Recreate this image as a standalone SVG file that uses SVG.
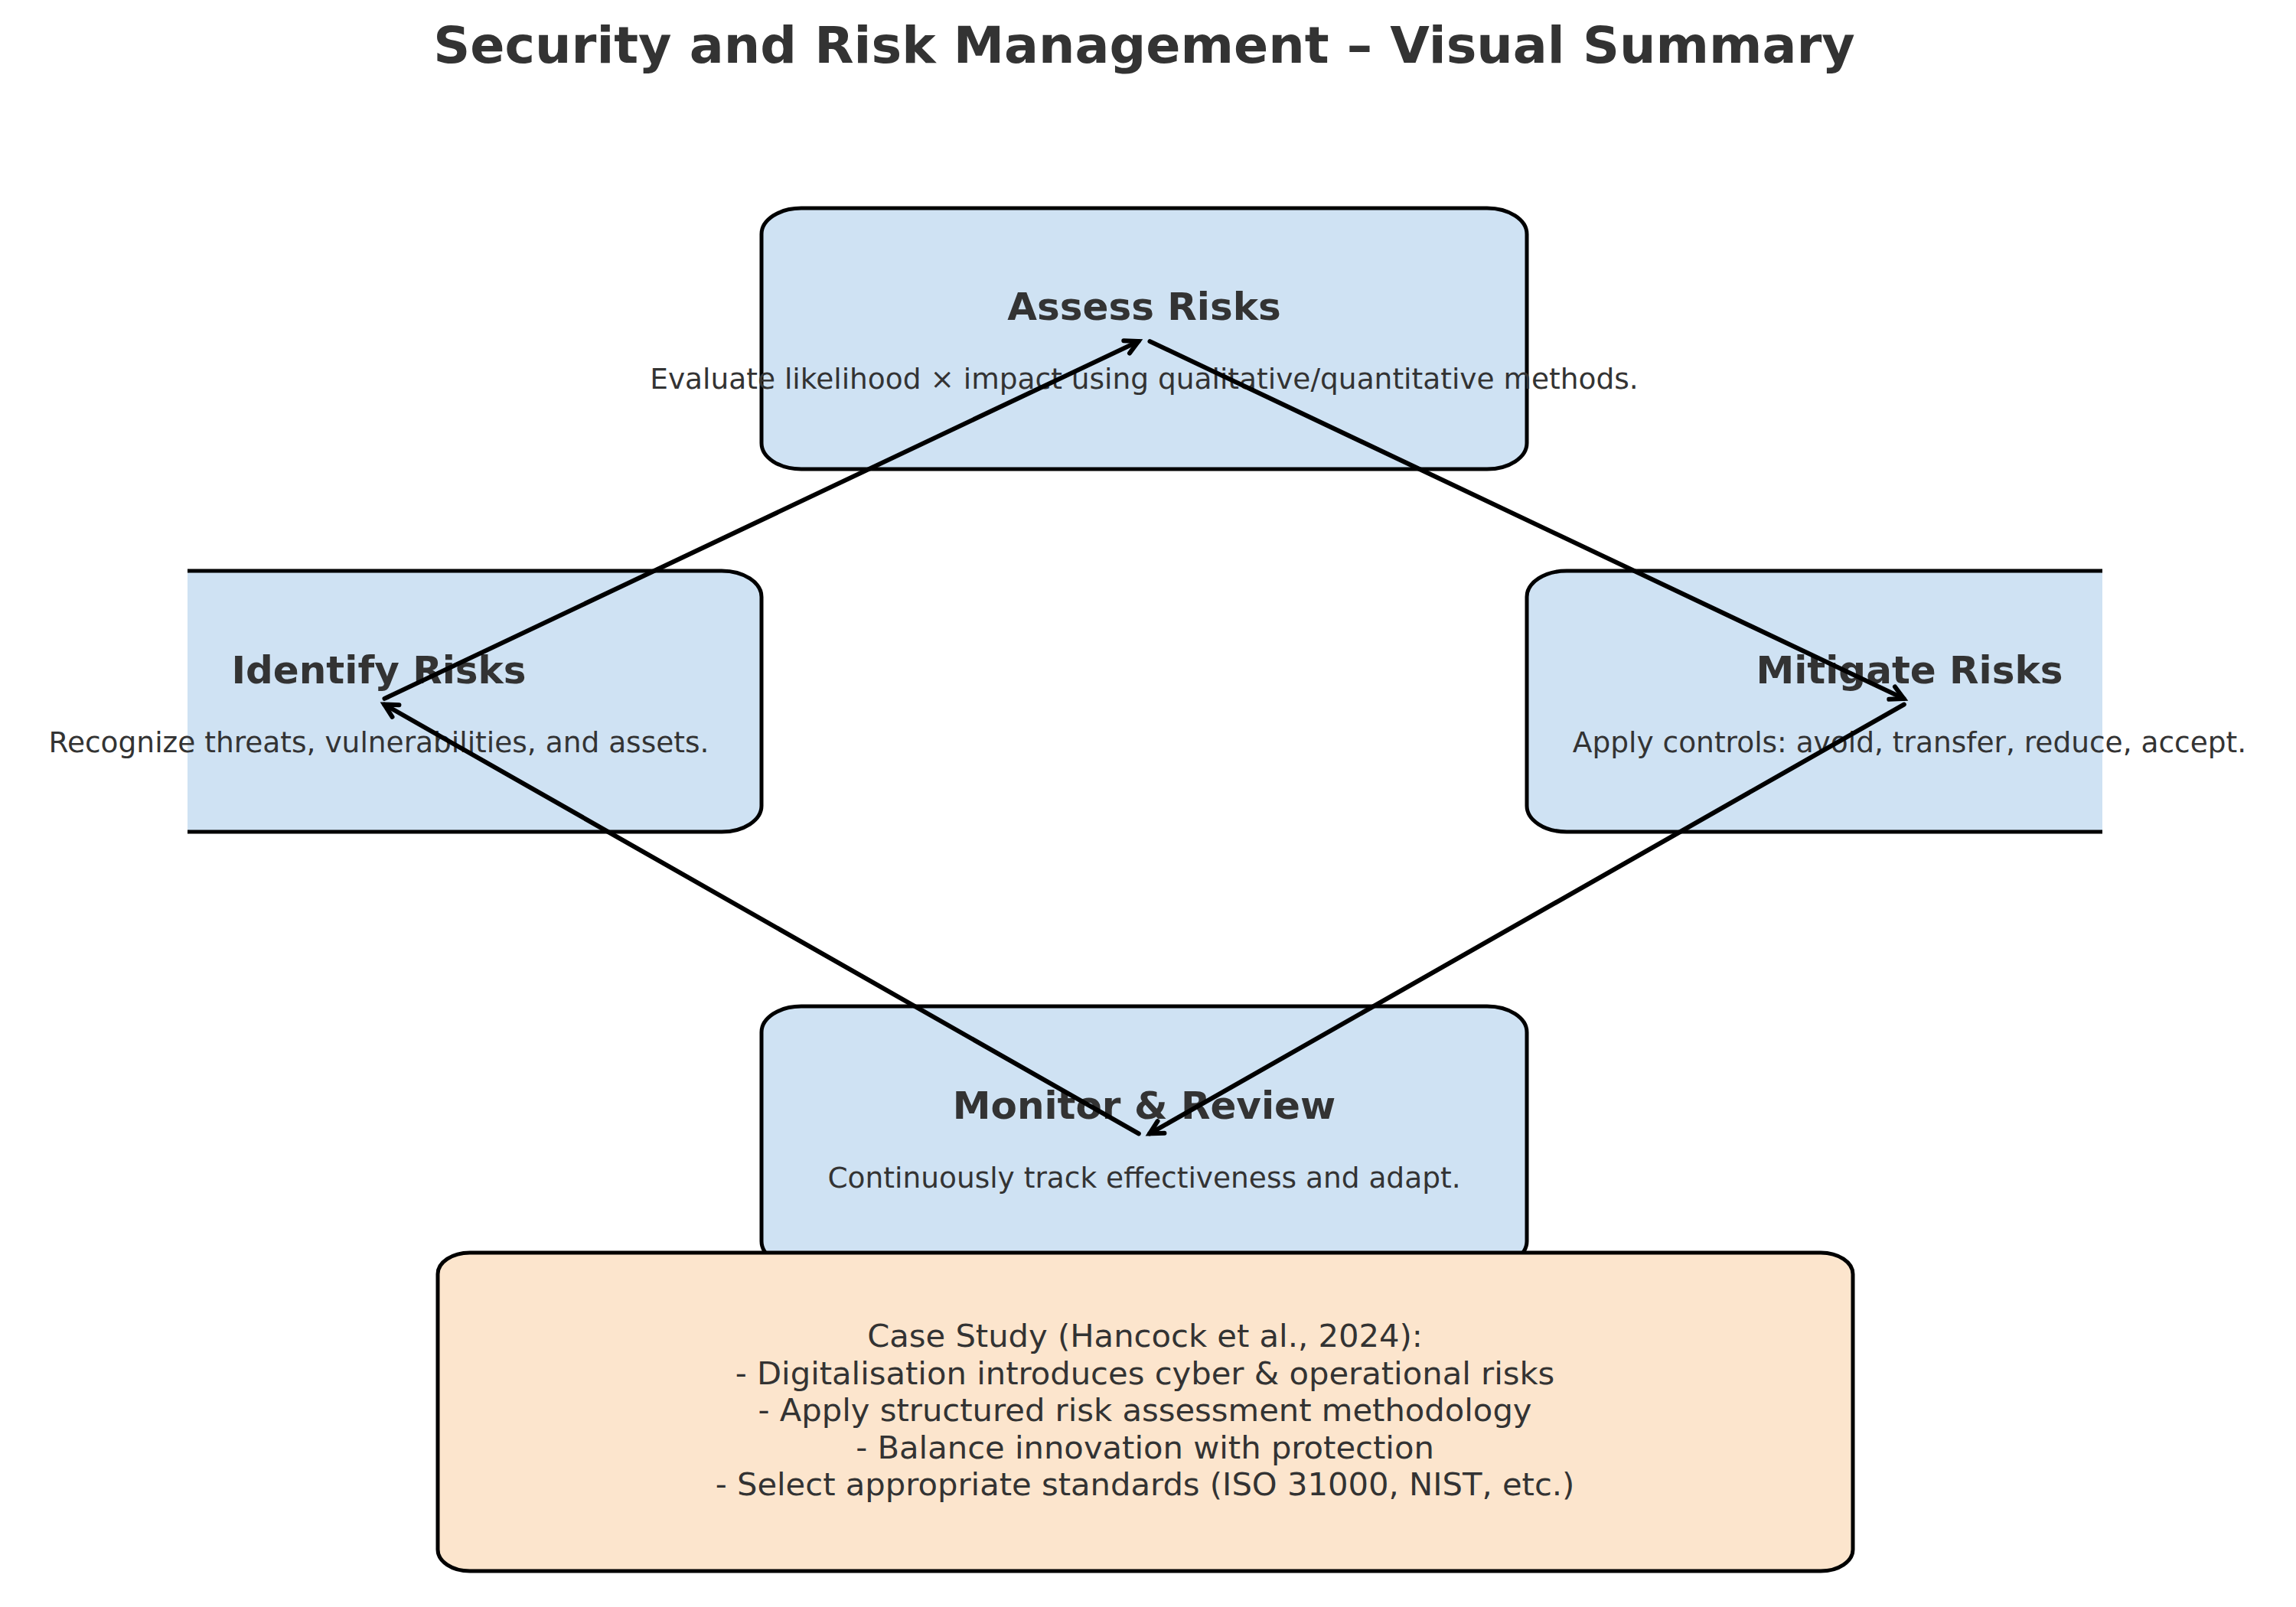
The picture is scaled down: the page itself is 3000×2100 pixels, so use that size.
<svg xmlns="http://www.w3.org/2000/svg" width="3000" height="2100" viewBox="0 0 3000 2100">
<style>
.box{fill:#cfe2f3;stroke:#000;stroke-width:5}
.case{fill:#fce5cd;stroke:#000;stroke-width:5}
.ttl{font-family:"DejaVu Sans",sans-serif;font-weight:bold;font-size:50px;fill:#333;text-anchor:middle}
.dsc{font-family:"DejaVu Sans",sans-serif;font-size:37.5px;fill:#333;text-anchor:middle}
.cs{font-family:"DejaVu Sans",sans-serif;font-size:41.7px;fill:#333;text-anchor:middle}
.conn{stroke:#000;stroke-width:6;fill:none;stroke-linecap:round;marker-end:url(#ah)}
</style>
<defs>
<clipPath id="ax"><rect x="245" y="0" width="2502" height="2100"/></clipPath>
<marker id="ah" markerUnits="userSpaceOnUse" viewBox="-30 -15 40 30" refX="0" refY="0" markerWidth="40" markerHeight="30" orient="auto" overflow="visible">
<path d="M-17,-9 L0,0 L-17,9" fill="none" stroke="#000" stroke-width="6" stroke-linecap="round" stroke-linejoin="miter"/>
</marker>
</defs>
<rect width="3000" height="2100" fill="#fff"/>
<text x="1495" y="82" font-family="DejaVu Sans,sans-serif" font-weight="bold" font-size="66.7" fill="#333" text-anchor="middle">Security and Risk Management – Visual Summary</text>
<g clip-path="url(#ax)">
<g id="assess"><rect class="box" x="995" y="272" width="1000" height="341" rx="52" ry="34"/></g>
<g id="identify"><rect class="box" x="-5" y="746" width="1000" height="341" rx="52" ry="34"/></g>
<g id="mitigate"><rect class="box" x="1995" y="746" width="1000" height="341" rx="52" ry="34"/></g>
<g id="monitor"><rect class="box" x="995" y="1315" width="1000" height="341" rx="52" ry="34"/></g>
</g>
<g id="assess-text"><text class="ttl" x="1495" y="418">Assess Risks</text><text class="dsc" x="1495" y="508">Evaluate likelihood × impact using qualitative/quantitative methods.</text></g>
<g id="identify-text"><text class="ttl" x="495" y="893">Identify Risks</text><text class="dsc" x="495" y="983">Recognize threats, vulnerabilities, and assets.</text></g>
<g id="mitigate-text"><text class="ttl" x="2495" y="893">Mitigate Risks</text><text class="dsc" x="2495" y="983">Apply controls: avoid, transfer, reduce, accept.</text></g>
<g id="monitor-text"><text class="ttl" x="1495" y="1462">Monitor &amp; Review</text><text class="dsc" x="1495" y="1552">Continuously track effectiveness and adapt.</text></g>
<g id="case-study">
<rect class="case" x="572" y="1637" width="1849" height="416" rx="42" ry="28"/>
<text class="cs" x="1496" y="1760">Case Study (Hancock et al., 2024):</text>
<text class="cs" x="1496" y="1808.5">- Digitalisation introduces cyber &amp; operational risks</text>
<text class="cs" x="1496" y="1857">- Apply structured risk assessment methodology</text>
<text class="cs" x="1496" y="1905.5">- Balance innovation with protection</text>
<text class="cs" x="1496" y="1954">- Select appropriate standards (ISO 31000, NIST, etc.)</text>
</g>
<g id="connectors">
<line class="conn" x1="502.5" y1="912.9" x2="1487.5" y2="446.1"/>
<line class="conn" x1="1502.5" y1="446.1" x2="2487.5" y2="912.9"/>
<line class="conn" x1="2487.8" y1="920.6" x2="1502.2" y2="1481.4"/>
<line class="conn" x1="1487.8" y1="1481.4" x2="502.2" y2="920.6"/>
</g>
</svg>
